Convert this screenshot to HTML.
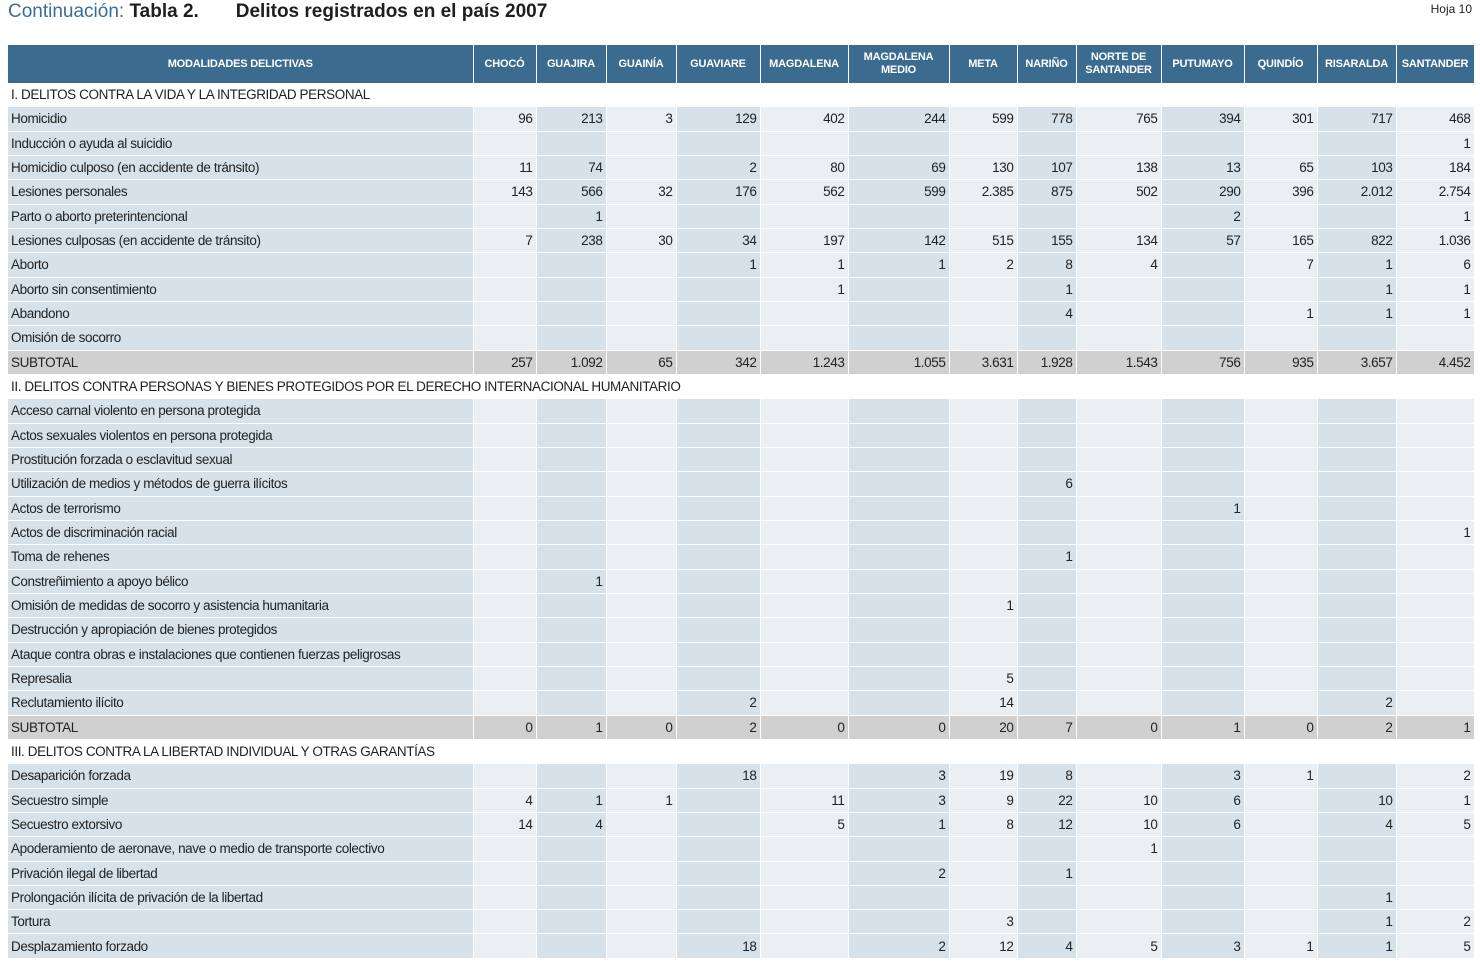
<!DOCTYPE html>
<html><head><meta charset="utf-8">
<style>
html,body{margin:0;padding:0;background:#fff;width:1480px;height:964px;overflow:hidden}
body{font-family:"Liberation Sans Narrow","Liberation Sans",sans-serif;color:#222;position:relative}
#title{position:absolute;left:8px;top:1px;font-size:19px;font-family:"Liberation Sans",sans-serif;white-space:nowrap;font-weight:bold;color:#1e1e1e}
#title .c{color:#3b6e96;font-weight:normal}
#hoja{position:absolute;right:8px;top:2px;font-size:12px;font-family:"Liberation Sans",sans-serif}
table{position:absolute;left:8px;top:45px;border-collapse:collapse;table-layout:fixed;width:1466px}
th{background:#3b6c8f;color:#fff;font-size:11px;font-weight:bold;height:38px;padding:0 2px;border-right:1px solid #fff;line-height:13px;font-family:"Liberation Sans Narrow","Liberation Sans",sans-serif;letter-spacing:-0.2px}
td{height:23.34px;padding:0 3px;font-size:13.5px;border-right:1px solid #fff;border-bottom:1px solid #fff;white-space:nowrap;overflow:hidden;text-align:right;letter-spacing:-0.4px}
td.l{text-align:left}
tr.sec td{background:#fff;text-align:left}
tr.d td.dk{background:#d6e1e9}
tr.d td.lt{background:#e9eff3}
tr.sub td{background:#d0d0d0}
</style></head><body>
<div id="title"><span class="c">Continuación:</span> Tabla 2.&nbsp;&nbsp;&nbsp;&nbsp;&nbsp;&nbsp; Delitos registrados en el país 2007</div>
<div id="hoja">Hoja 10</div>
<table id="t">
<colgroup><col style="width:465px"><col style="width:63px"><col style="width:70px"><col style="width:70px"><col style="width:84px"><col style="width:88px"><col style="width:101px"><col style="width:68px"><col style="width:59px"><col style="width:85px"><col style="width:83px"><col style="width:73px"><col style="width:79px"><col style="width:78px"></colgroup>
<thead><tr>
<th>MODALIDADES DELICTIVAS</th>
<th>CHOCÓ</th>
<th>GUAJIRA</th>
<th>GUAINÍA</th>
<th>GUAVIARE</th>
<th>MAGDALENA</th>
<th>MAGDALENA<br>MEDIO</th>
<th>META</th>
<th>NARIÑO</th>
<th>NORTE DE<br>SANTANDER</th>
<th>PUTUMAYO</th>
<th>QUINDÍO</th>
<th>RISARALDA</th>
<th>SANTANDER</th>
</tr></thead>
<tbody id="tb"></tbody>
</table>
<script>
const secI = "I. DELITOS CONTRA LA VIDA Y LA INTEGRIDAD PERSONAL";
const secII = "II. DELITOS CONTRA PERSONAS Y BIENES PROTEGIDOS POR EL DERECHO INTERNACIONAL HUMANITARIO";
const secIII = "III. DELITOS CONTRA LA LIBERTAD INDIVIDUAL Y OTRAS GARANTÍAS";
const homicidio = ["96","213","3","129","402","244","599","778","765","394","301","717","468"];
const induccion = ["","","","","","","","","","","","","1"];
const homCulposo = ["11","74","","2","80","69","130","107","138","13","65","103","184"];
const lesiones = ["143","566","32","176","562","599","2.385","875","502","290","396","2.012","2.754"];
const parto = ["","1","","","","","","","","2","","","1"];
const lesCulposas = ["7","238","30","34","197","142","515","155","134","57","165","822","1.036"];
const aborto = ["","","","1","1","1","2","8","4","","7","1","6"];
const abortoSin = ["","","","","1","","","1","","","","1","1"];
const abandono = ["","","","","","","","4","","","1","1","1"];
const omision = ["","","","","","","","","","","","",""];
const subI = ["257","1.092","65","342","1.243","1.055","3.631","1.928","1.543","756","935","3.657","4.452"];
const E = ["","","","","","","","","","","","",""];
const utilizacion = ["","","","","","","","6","","","","",""];
const terrorismo = ["","","","","","","","","","1","","",""];
const discriminacion = ["","","","","","","","","","","","","1"];
const toma = ["","","","","","","","1","","","","",""];
const constrenimiento = ["","1","","","","","","","","","","",""];
const omisionMedidas = ["","","","","","","1","","","","","",""];
const represalia = ["","","","","","","5","","","","","",""];
const reclutamiento = ["","","","2","","","14","","","","","2",""];
const subII = ["0","1","0","2","0","0","20","7","0","1","0","2","1"];
const desaparicion = ["","","","18","","3","19","8","","3","1","","2"];
const secSimple = ["4","1","1","","11","3","9","22","10","6","","10","1"];
const secExtorsivo = ["14","4","","","5","1","8","12","10","6","","4","5"];
const apoderamiento = ["","","","","","","","","1","","","",""];
const privacion = ["","","","","","2","","1","","","","",""];
const prolongacion = ["","","","","","","","","","","","1",""];
const tortura = ["","","","","","","3","","","","","1","2"];
const desplazamiento = ["","","","18","","2","12","4","5","3","1","1","5"];

const rows = [
 ["s",secI],
 ["d","Homicidio",homicidio],["d","Inducción o ayuda al suicidio",induccion],
 ["d","Homicidio culposo (en accidente de tránsito)",homCulposo],["d","Lesiones personales",lesiones],
 ["d","Parto o aborto preterintencional",parto],["d","Lesiones culposas (en accidente de tránsito)",lesCulposas],
 ["d","Aborto",aborto],["d","Aborto sin consentimiento",abortoSin],["d","Abandono",abandono],
 ["d","Omisión de socorro",omision],["t","SUBTOTAL",subI],
 ["s",secII],
 ["d","Acceso carnal violento en persona protegida",E],["d","Actos sexuales violentos en persona protegida",E],
 ["d","Prostitución forzada o esclavitud sexual",E],["d","Utilización de medios y métodos de guerra ilícitos",utilizacion],
 ["d","Actos de terrorismo",terrorismo],["d","Actos de discriminación racial",discriminacion],
 ["d","Toma de rehenes",toma],["d","Constreñimiento a apoyo bélico",constrenimiento],
 ["d","Omisión de medidas de socorro y asistencia humanitaria",omisionMedidas],
 ["d","Destrucción y apropiación de bienes protegidos",E],
 ["d","Ataque contra obras e instalaciones que contienen fuerzas peligrosas",E],
 ["d","Represalia",represalia],["d","Reclutamiento ilícito",reclutamiento],["t","SUBTOTAL",subII],
 ["s",secIII],
 ["d","Desaparición forzada",desaparicion],["d","Secuestro simple",secSimple],["d","Secuestro extorsivo",secExtorsivo],
 ["d","Apoderamiento de aeronave, nave o medio de transporte colectivo",apoderamiento],
 ["d","Privación ilegal de libertad",privacion],["d","Prolongación ilícita de privación de la libertad",prolongacion],
 ["d","Tortura",tortura],["d","Desplazamiento forzado",desplazamiento]
];
const tb = document.getElementById('tb');
rows.forEach(r=>{
  const tr = document.createElement('tr');
  
  if(r[0]==='s'){
    tr.className='sec';
    
    const td=document.createElement('td');td.colSpan=14;td.textContent=r[1];
    
    
    tr.appendChild(td);
  } else {
    tr.className = r[0]==='t' ? 'sub' : 'd';
    
    const td=document.createElement('td');td.className='l dk';td.textContent=r[1];
    
    
    tr.appendChild(td);
    r[2].forEach((v,i)=>{
      const c=document.createElement('td');
      c.className = (i%2===0)?'lt':'dk';
      c.textContent=v;
      
      
      tr.appendChild(c);
    });
  }
  tb.appendChild(tr);
});
</script>
</body></html>
